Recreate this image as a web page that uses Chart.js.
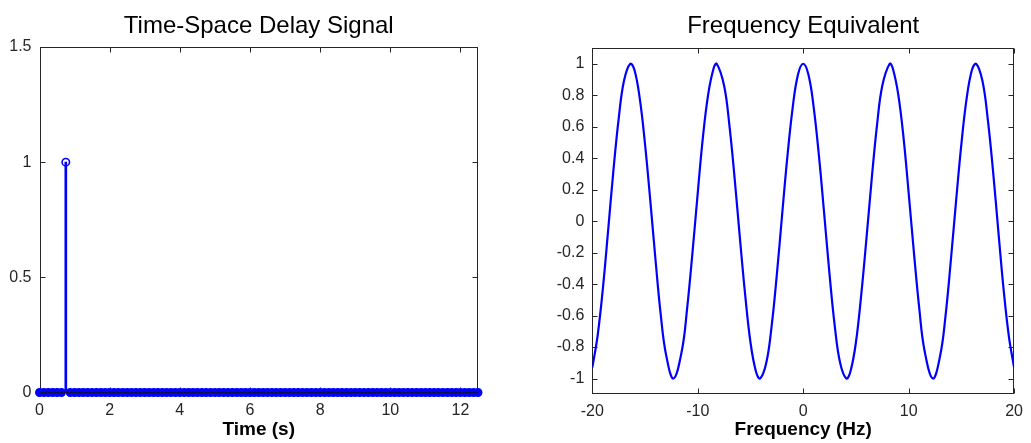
<!DOCTYPE html>
<html>
<head>
<meta charset="utf-8">
<script src="https://cdn.jsdelivr.net/npm/chart.js@4.4.0/dist/chart.umd.min.js"></script>
<style>
  html, body { margin: 0; padding: 0; background: #fff; }
  #wrap { position: relative; width: 1031px; height: 443px; overflow: hidden; }
  canvas { position: absolute; top: 0; }
  #delayChart { left: 0; }
  #freqChart { left: 530px; }
</style>
</head>
<body>
<div id="wrap">
  <canvas id="delayChart" width="520" height="443"></canvas>
  <canvas id="freqChart" width="501" height="443"></canvas>
</div>
<script>
// left panel: delayed impulse (stem plot)
const timeSamples = [
  0, 0.125, 0.25, 0.375, 0.5, 0.625, 0.75, 0.875,
  1, 1.125, 1.25, 1.375, 1.5, 1.625, 1.75, 1.875,
  2, 2.125, 2.25, 2.375, 2.5, 2.625, 2.75, 2.875,
  3, 3.125, 3.25, 3.375, 3.5, 3.625, 3.75, 3.875,
  4, 4.125, 4.25, 4.375, 4.5, 4.625, 4.75, 4.875,
  5, 5.125, 5.25, 5.375, 5.5, 5.625, 5.75, 5.875,
  6, 6.125, 6.25, 6.375, 6.5, 6.625, 6.75, 6.875,
  7, 7.125, 7.25, 7.375, 7.5, 7.625, 7.75, 7.875,
  8, 8.125, 8.25, 8.375, 8.5, 8.625, 8.75, 8.875,
  9, 9.125, 9.25, 9.375, 9.5, 9.625, 9.75, 9.875,
  10, 10.125, 10.25, 10.375, 10.5, 10.625, 10.75, 10.875,
  11, 11.125, 11.25, 11.375, 11.5, 11.625, 11.75, 11.875,
  12, 12.125, 12.25, 12.375, 12.5
];
const delaySignal = [
  0, 0, 0, 0, 0, 0, 1, 0,
  0, 0, 0, 0, 0, 0, 0, 0,
  0, 0, 0, 0, 0, 0, 0, 0,
  0, 0, 0, 0, 0, 0, 0, 0,
  0, 0, 0, 0, 0, 0, 0, 0,
  0, 0, 0, 0, 0, 0, 0, 0,
  0, 0, 0, 0, 0, 0, 0, 0,
  0, 0, 0, 0, 0, 0, 0, 0,
  0, 0, 0, 0, 0, 0, 0, 0,
  0, 0, 0, 0, 0, 0, 0, 0,
  0, 0, 0, 0, 0, 0, 0, 0,
  0, 0, 0, 0, 0, 0, 0, 0,
  0, 0, 0, 0, 0
];
const timeTicks = [0, 2, 4, 6, 8, 10, 12];
const delayTicks = [0, 0.5, 1, 1.5];

// right panel: frequency equivalent
const freqSamples = [
  -20, -19.5, -19, -18.5, -18, -17.5, -17, -16.4,
  -16, -15.5, -15, -14.5, -14, -13.5, -13, -12.3,
  -11.5, -11, -10.5, -10, -9.5, -9, -8.5, -8.2,
  -7.5, -7, -6.5, -6, -5.5, -5, -4.5, -4.1,
  -3.5, -3, -2.5, -2, -1.5, -1, -0.5,
  0,
  0.5, 1, 1.5, 2, 2.5, 3, 3.5,
  4.1, 4.5, 5, 5.5, 6, 6.5, 7, 7.5,
  8.2, 8.5, 9, 9.5, 10, 10.5, 11, 11.5,
  12.3, 13, 13.5, 14, 14.5, 15, 15.5, 16,
  16.4, 17, 17.5, 18, 18.5, 19, 19.5, 20
];
const freqResponse = [
  -0.93, -0.73, -0.43, -0.06, 0.32, 0.65, 0.89, 1.00,
  0.96, 0.78, 0.49, 0.13, -0.25, -0.60, -0.85, -1.00,
  -0.82, -0.55, -0.20, 0.18, 0.54, 0.81, 0.97, 1.00,
  0.86, 0.61, 0.27, -0.11, -0.47, -0.77, -0.95, -1.00,
  -0.90, -0.67, -0.34, 0.04, 0.41, 0.72, 0.93,
  1.00,
  0.93, 0.72, 0.41, 0.04, -0.34, -0.67, -0.90,
  -1.00, -0.95, -0.77, -0.47, -0.11, 0.27, 0.61, 0.86,
  1.00, 0.97, 0.81, 0.54, 0.18, -0.20, -0.55, -0.82,
  -1.00, -0.85, -0.60, -0.25, 0.13, 0.49, 0.78, 0.96,
  1.00, 0.89, 0.65, 0.32, -0.06, -0.43, -0.73, -0.93
];
const freqTicks = [-20, -10, 0, 10, 20];
const responseTicks = [-1, -0.8, -0.6, -0.4, -0.2, 0, 0.2, 0.4, 0.6, 0.8, 1];

const FONT = '"Liberation Sans", Arial, Helvetica, sans-serif';
const BLUE = '#0000ff';
const AXIS = '#262626';

// box around the plot area with inward ticks on all four sides, plus title
const matlabFrame = {
  id: 'matlabFrame',
  beforeDatasetsDraw(chart) {
    const { ctx, chartArea: a, scales } = chart;
    const l = Math.round(a.left) + 0.5, r = Math.round(a.right) - 0.5;
    const t = Math.round(a.top) + 0.5, b = Math.round(a.bottom) - 0.5;
    ctx.save();
    ctx.strokeStyle = AXIS;
    ctx.lineWidth = 1;
    ctx.strokeRect(l, t, r - l, b - t);
    ctx.beginPath();
    scales.x.ticks.forEach(tk => {
      const px = Math.round(scales.x.getPixelForValue(tk.value)) + 0.5;
      ctx.moveTo(px, b); ctx.lineTo(px, b - 5);
      ctx.moveTo(px, t); ctx.lineTo(px, t + 5);
    });
    scales.y.ticks.forEach(tk => {
      const py = Math.round(scales.y.getPixelForValue(tk.value)) + 0.5;
      ctx.moveTo(l, py); ctx.lineTo(l + 5, py);
      ctx.moveTo(r, py); ctx.lineTo(r - 5, py);
    });
    ctx.stroke();
    ctx.restore();
  },
  afterDraw(chart, args, opts) {
    const { ctx, chartArea: a } = chart;
    ctx.save();
    ctx.font = '24px ' + FONT;
    ctx.fillStyle = '#000';
    ctx.textAlign = 'center';
    ctx.textBaseline = 'alphabetic';
    ctx.fillText(opts.text, (a.left + a.right) / 2, 33);
    ctx.restore();
  }
};

function fixedTicks(values) {
  return scale => { scale.ticks = values.map(v => ({ value: v })); };
}

function axis(min, max, ticks, size, title) {
  const cfg = {
    type: 'linear',
    min: min,
    max: max,
    offset: false,
    afterBuildTicks: fixedTicks(ticks),
    grid: { display: false, drawTicks: false },
    border: { display: false },
    ticks: {
      color: AXIS,
      font: { family: FONT, size: 16 },
      padding: 8,
      autoSkip: false,
      maxRotation: 0,
      callback: v => String(v)
    }
  };
  if (title) {
    cfg.title = {
      display: true,
      text: title,
      color: '#000',
      font: { family: FONT, size: 19, weight: 'bold' },
      padding: { top: 0, bottom: 2 }
    };
    cfg.afterFit = s => { s.height = size; };
  } else {
    cfg.afterFit = s => { s.width = size; };
  }
  return cfg;
}

const delayPoints = timeSamples.map((t, i) => ({ x: t, y: delaySignal[i] }));

new Chart(document.getElementById('delayChart'), {
  type: 'bar',
  data: {
    datasets: [
      {
        type: 'line',
        data: [
          { x: timeSamples[0], y: 0 },
          { x: timeSamples[timeSamples.length - 1], y: 0 }
        ],
        borderColor: '#101040',
        borderWidth: 1,
        pointRadius: 0,
        clip: false,
        order: 0
      },
      {
        // markers are so dense along zero that they merge into one band
        type: 'line',
        data: delayPoints,
        showLine: false,
        pointRadius: 3.7,
        pointBorderWidth: 1.6,
        pointBorderColor: BLUE,
        pointBackgroundColor: c => (c.raw && c.raw.y === 0 ? BLUE : 'rgba(0,0,0,0)'),
        clip: false,
        order: 1
      },
      {
        type: 'bar',
        data: delayPoints,
        backgroundColor: BLUE,
        barThickness: 2,
        order: 2
      }
    ]
  },
  options: {
    responsive: false,
    animation: false,
    layout: { padding: { top: 47, right: 42, bottom: 0, left: 0 } },
    plugins: {
      legend: { display: false },
      tooltip: { enabled: false },
      matlabFrame: { text: 'Time-Space Delay Signal' }
    },
    scales: {
      x: axis(0, 12.5, timeTicks, 50.5, 'Time (s)'),
      y: axis(0, 1.5, delayTicks, 39.5)
    }
  },
  plugins: [matlabFrame]
});

new Chart(document.getElementById('freqChart'), {
  type: 'scatter',
  data: {
    datasets: [{
      data: freqSamples.map((f, i) => ({ x: f, y: freqResponse[i] })),
      showLine: true,
      borderColor: BLUE,
      borderWidth: 2.2,
      pointRadius: 0,
      tension: 0.4
    }]
  },
  options: {
    responsive: false,
    animation: false,
    layout: { padding: { top: 48, right: 11, bottom: 0, left: 0 } },
    plugins: {
      legend: { display: false },
      tooltip: { enabled: false },
      matlabFrame: { text: 'Frequency Equivalent' }
    },
    scales: {
      x: axis(-20, 20, freqTicks, 48.7, 'Frequency (Hz)'),
      y: axis(-1.1, 1.1, responseTicks, 62.3)
    }
  },
  plugins: [matlabFrame]
});
</script>
</body>
</html>
